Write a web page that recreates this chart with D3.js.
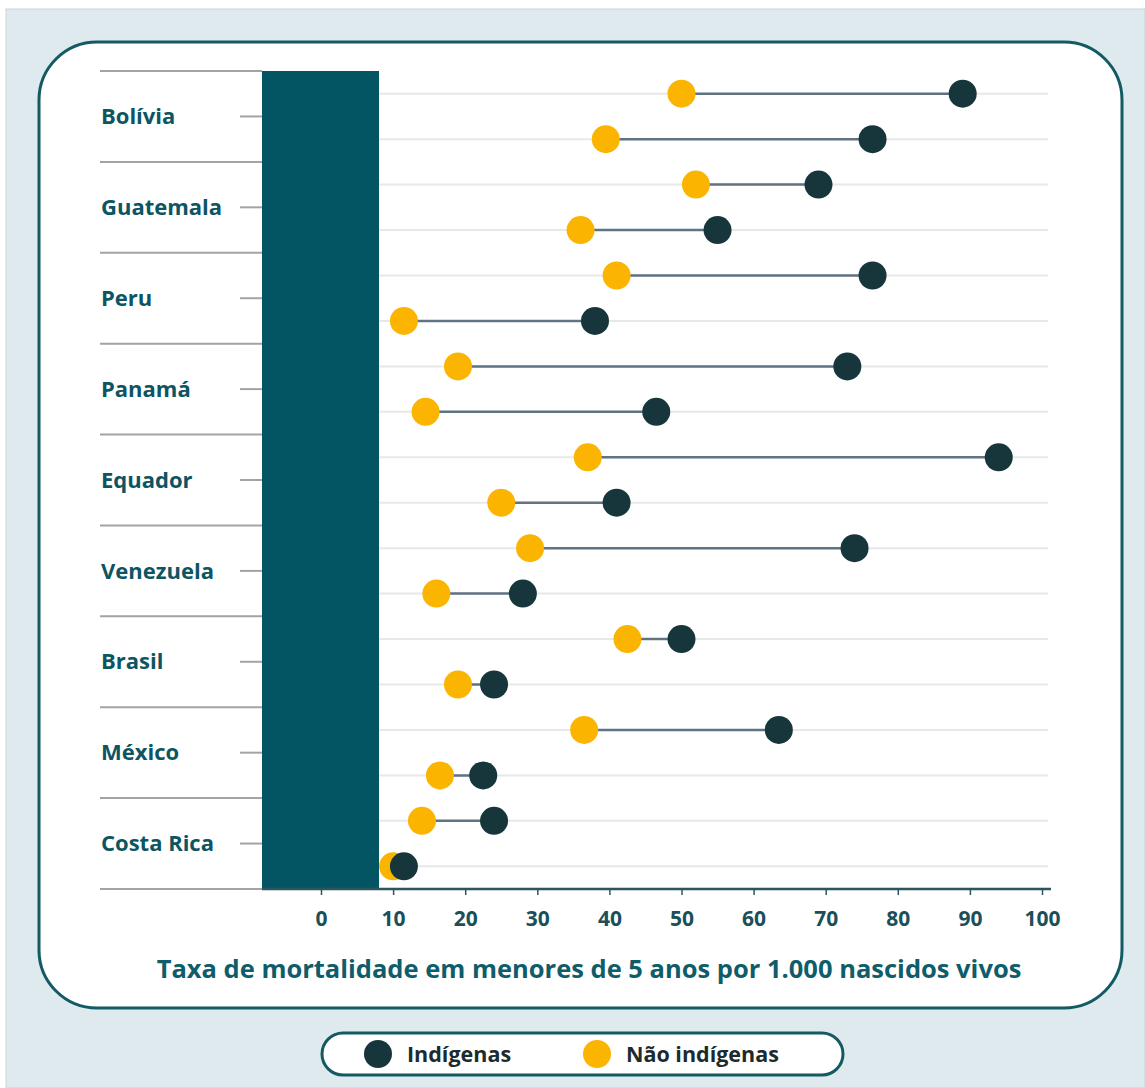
<!DOCTYPE html>
<html lang="pt">
<head>
<meta charset="UTF-8">
<title>Mortalidade em menores de 5 anos</title>
<style>
    html, body { margin: 0; padding: 0; background: #fff; }
    svg { display: block; font-family: "Open Sans", "Noto Sans", sans-serif; }
</style>
<script src="https://d3js.org/d3.v7.min.js"></script>
</head>
<body>
<svg width="1145" height="1088"></svg>
<script>
    // data
    const countries = ['Bolívia', 'Guatemala', 'Peru', 'Panamá', 'Equador', 'Venezuela', 'Brasil', 'México', 'Costa Rica'];
    // two rows per country, top row first
    const indigenas = [89, 76.5, 69, 55, 76.5, 38, 73, 46.5, 94, 41, 74, 28, 50, 24, 63.5, 22.5, 24, 11.5];
    const naoIndigenas = [50, 39.5, 52, 36, 41, 11.5, 19, 14.5, 37, 25, 29, 16, 42.5, 19, 36.5, 16.5, 14, 10];
    const xTicks = [0, 10, 20, 30, 40, 50, 60, 70, 80, 90, 100];
    const axisTitle = 'Taxa de mortalidade em menores de 5 anos por 1.000 nascidos vivos';
    const legendItems = ['Indígenas', 'Não indígenas'];

    const dark = '#17363c';
    const gold = '#fbb400';
    const teal = '#0d5562';

    const svg = d3.select('svg');

    // background + panel
    svg.append('rect').attr('x', 6).attr('y', 9).attr('width', 1139).attr('height', 1079)
        .attr('fill', '#dfeaee').attr('stroke', '#c9d4d8').attr('stroke-width', 1);
    svg.append('rect').attr('x', 39).attr('y', 42).attr('width', 1083).attr('height', 966)
        .attr('rx', 58).attr('ry', 58)
        .attr('fill', '#fff').attr('stroke', '#135a63').attr('stroke-width', 3);

    const x = d3.scaleLinear().domain([0, 100]).range([321, 1042]);
    const yBand = d3.scaleBand().domain(countries).range([71, 889]);
    const rows = d3.range(indigenas.length);
    const yRow = d3.scalePoint().domain(rows).range([yBand(countries[0]) + yBand.bandwidth() / 4,
        yBand(countries[countries.length - 1]) + yBand.bandwidth() * 3 / 4]);

    // light gridlines per row
    svg.append('g').selectAll('line').data(rows).join('line')
        .attr('x1', 262).attr('x2', 1048)
        .attr('y1', d => yRow(d)).attr('y2', d => yRow(d))
        .attr('stroke', '#e8e8e8').attr('stroke-width', 2);

    // country separators
    const seps = countries.map(c => yBand(c)).concat([yBand.range()[1]]);
    svg.append('g').selectAll('line').data(seps).join('line')
        .attr('x1', 100).attr('x2', 262)
        .attr('y1', d => d).attr('y2', d => d)
        .attr('stroke', '#a3a3a3').attr('stroke-width', 2);

    // y ticks at labels
    svg.append('g').selectAll('line').data(countries).join('line')
        .attr('x1', 240).attr('x2', 262)
        .attr('y1', d => yBand(d) + yBand.bandwidth() / 2).attr('y2', d => yBand(d) + yBand.bandwidth() / 2)
        .attr('stroke', '#a3a3a3').attr('stroke-width', 2);

    svg.append('g').selectAll('text').data(countries).join('text')
        .attr('x', 101).attr('y', d => yBand(d) + yBand.bandwidth() / 2)
        .attr('dy', '0.35em')
        .attr('font-size', 22).attr('font-weight', 700).attr('fill', teal)
        .text(d => d);

    // dark block over the left of the plot
    svg.append('rect').attr('x', 262).attr('y', 71).attr('width', 117).attr('height', 818)
        .attr('fill', '#045564');

    // x axis
    const xAxis = svg.append('g').attr('transform', 'translate(0,889)')
        .call(d3.axisBottom(x).tickValues(xTicks).tickSize(6).tickSizeOuter(0));
    xAxis.select('.domain').remove();
    xAxis.append('line').attr('x1', 262).attr('x2', 1051).attr('y1', 0).attr('y2', 0)
        .attr('stroke', '#2c5560').attr('stroke-width', 2.5);
    xAxis.selectAll('.tick line').attr('stroke', '#2c5560').attr('stroke-width', 1.5);
    xAxis.selectAll('.tick text')
        .attr('y', 22).attr('dy', '0.71em')
        .attr('font-family', '"Open Sans", sans-serif')
        .attr('font-size', 21).attr('font-weight', 700).attr('fill', '#1b4f5a');

    svg.append('text').attr('x', 589).attr('y', 978)
        .attr('text-anchor', 'middle')
        .attr('font-size', 25.5).attr('font-weight', 700).attr('fill', '#0f5d6a')
        .text(axisTitle);

    // dumbbells
    const g = svg.append('g');
    g.selectAll('line.link').data(rows).join('line').attr('class', 'link')
        .attr('x1', d => x(naoIndigenas[d])).attr('x2', d => x(indigenas[d]))
        .attr('y1', d => yRow(d)).attr('y2', d => yRow(d))
        .attr('stroke', '#5f7383').attr('stroke-width', 2.5);
    g.selectAll('circle.nao').data(rows).join('circle').attr('class', 'nao')
        .attr('cx', d => x(naoIndigenas[d])).attr('cy', d => yRow(d)).attr('r', 14)
        .attr('fill', gold);
    g.selectAll('circle.ind').data(rows).join('circle').attr('class', 'ind')
        .attr('cx', d => x(indigenas[d])).attr('cy', d => yRow(d)).attr('r', 14)
        .attr('fill', dark);

    // legend
    svg.append('rect').attr('x', 322).attr('y', 1033).attr('width', 521).attr('height', 42)
        .attr('rx', 21).attr('fill', '#fff').attr('stroke', '#135a63').attr('stroke-width', 3);
    const legendX = [378, 597];
    const legendColor = [dark, gold];
    const lg = svg.append('g').selectAll('g').data(legendItems).join('g')
        .attr('transform', (d, i) => `translate(${legendX[i]},1054)`);
    lg.append('circle').attr('r', 14).attr('fill', (d, i) => legendColor[i]);
    lg.append('text').attr('x', 29).attr('dy', '0.35em')
        .attr('font-size', 21.5).attr('font-weight', 700).attr('fill', '#1c2b2e')
        .text(d => d);
</script>
</body>
</html>
